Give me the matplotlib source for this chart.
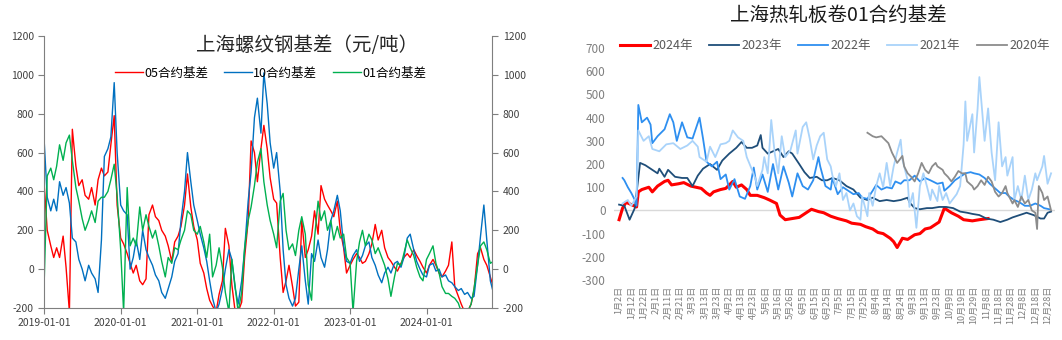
import pandas as pd
import matplotlib

matplotlib.use("Agg")
import matplotlib.pyplot as plt
import matplotlib.dates as mdates

plt.rcParams["font.family"] = ["Noto Sans CJK SC", "DejaVu Sans"]
plt.rcParams["axes.unicode_minus"] = False

# ---- rebar basis, half-monthly samples from 2019-01-01 ----
REBAR_DATES = pd.date_range("2019-01-01", periods=142, freq="SMS")

BASIS_05 = [
    430, 200, 120, 60, 110, 60, 170, 10, -220, 720, 530, 430,
    460, 380, 360, 420, 330, 460, 520, 480, 500, 640, 790, 330,
    160, 130, 80, 30, -20, 20, -60, -80, -50, 280, 330, 270,
    250, 200, 170, 120, 40, 140, 170, 220, 330, 490, 320, 220,
    150, 30, -20, -100, -160, -190, -220, -130, -60, 210, 120, -80,
    -220, -220, -170, 60, 250, 660, 600, 450, 620, 740, 620, 470,
    360, 340, 60, -120, -60, 20, -90, -190, -170, 250, 60, 100,
    170, 300, 180, 430, 360, 330, 300, 270, 350, 200, 110, -20,
    20, 50, 80, 60, 30, 40, 80, 130, 230, 150, 200, 110,
    60, 40, 10, -10, 30, 60, 80, 60, 100, 70, 40, 10,
    -20, 20, 50, 20, -20, -40, -10, 20, 140, -90, -140, -180,
    -220, -220, -180, -110, 80, 110, 50, 20, -40, -90,
]
BASIS_10 = [
    650, 370, 300, 360, 300, 450, 380, 420, 340, 160, 140, 50,
    0, -60, 20, -20, -50, -120, 150, 580, 620, 680, 960, 600,
    330, 300, 280, 0, 60, 150, 50, 200, 100, 60, 20, -30,
    -60, -120, -150, -100, -40, 40, 80, 250, 400, 600, 450, 330,
    250, 180, 110, 40, -60, -150, -220, -180, -100, 0, 100, 50,
    -100, -180, -60, 100, 350, 500, 780, 880, 700, 1010, 850, 650,
    520, 600, 400, 100, -80, -150, -190, -150, 0, 120, -60, -180,
    80, 40, 150, 60, 10, 100, 250, 300, 380, 300, 120, 40,
    30, 70, 100, 40, 70, 120, 140, 60, 20, -30, -70, -20,
    10, -20, 30, 40, 10, 60, 160, 180, 100, 40, 0, -30,
    -40, 20, 30, -10, 0, -40, -30, -60, -70, -90, -110, -100,
    -130, -120, -150, -140, 20, 170, 330, 150, -60, -120,
]
BASIS_01 = [
    -50, 480, 520, 460, 530, 640, 560, 650, 690, 560, 420, 350,
    260, 200, 250, 300, 240, 350, 370, 370, 400, 460, 540, 380,
    100, -220, 420, 120, 160, 120, 320, 200, 280, 220, 160, 200,
    120, 40, -40, 60, 30, 110, 100, 150, 200, 300, 280, 200,
    180, 220, 140, 60, 180, -40, 20, 110, 10, -120, -220, 50,
    -90, -220, -120, 110, 250, 320, 430, 550, 620, 450, 330, 250,
    180, 110, 350, 390, 200, 100, 130, 70, 200, 270, 180, -80,
    -160, 160, 350, 250, 300, 200, 250, 150, 220, 160, 180, 60,
    30, -220, 40, 140, 200, 120, 180, 150, 80, 110, 60, 20,
    -50, -140, -40, 30, 20, 80, 150, 110, 70, 10, -40, -60,
    50, 80, 120, 30, -20, -90, -125, -125, -140, -150, -175, -220,
    -220, -220, -180, -100, 20, 120, 140, 100, 30, 40,
]
REBAR_LABELS = ["05合约基差", "10合约基差", "01合约基差"]
REBAR_COLORS = ["#ff0000", "#0070c0", "#00b050"]

# ---- hot-rolled coil 01 basis, seasonal by trading day ----
HRC_TICKS = [
    "1月2日", "1月12日", "1月22日", "2月1日", "2月11日", "2月21日",
    "3月3日", "3月13日", "3月23日", "4月2日", "4月13日", "4月23日",
    "5月6日", "5月16日", "5月26日", "6月5日", "6月15日", "6月25日",
    "7月5日", "7月15日", "7月25日", "8月4日", "8月14日", "8月24日",
    "9月3日", "9月13日", "9月23日", "10月9日", "10月19日", "10月29日",
    "11月8日", "11月18日", "11月28日", "12月8日", "12月18日", "12月28日",
]

day_2024 = [0, 2, 4, 7, 10, 11, 13, 17, 19, 22, 26, 28, 30, 34, 37, 41, 44, 47,
            50, 52, 54, 58, 61, 65, 67, 70, 73, 75, 79, 83, 86, 90, 92, 95, 99,
            103, 107, 110, 114, 117, 121, 125, 130, 133, 138, 141, 145, 148,
            151, 155, 157, 159, 162, 165, 169, 172, 175, 178, 181, 183, 186,
            188, 190, 194, 197, 202, 206, 211]
hrc_2024 = [-40, 10, 35, 25, 15, 80, 90, 100, 80, 105, 125, 130, 110, 115, 120,
            105, 100, 95, 75, 65, 80, 90, 95, 125, 100, 110, 90, 65, 65, 55, 45,
            30, -20, -40, -35, -30, -10, 5, -5, -10, -25, -35, -45, -55, -60,
            -70, -80, -95, -100, -120, -135, -160, -120, -125, -105, -100, -80,
            -75, -60, -50, 10, 0, -10, -25, -40, -45, -40, -35]

day_2023 = [0, 3, 6, 9, 12, 15, 19, 22, 23, 26, 28, 32, 36, 39, 42, 45, 48, 52,
            56, 59, 63, 67, 70, 73, 76, 79, 81, 82, 85, 88, 91, 94, 97, 99, 103,
            106, 109, 113, 116, 119, 122, 126, 130, 134, 138, 142, 145, 149,
            153, 157, 161, 165, 166, 169, 172, 176, 179, 183, 187, 191, 195,
            199, 202, 206, 210, 214, 218, 222, 225, 229, 233, 237, 241, 243,
            245, 247]
hrc_2023 = [25, 20, -40, 10, 205, 195, 175, 160, 180, 145, 175, 145, 140, 140,
            105, 150, 180, 200, 175, 215, 245, 270, 295, 270, 270, 280, 325, 270,
            245, 255, 265, 230, 255, 245, 200, 165, 140, 145, 130, 130, 140, 130,
            105, 90, 55, 45, 55, 40, 45, 40, 45, 55, 35, 10, 5, 10, 10, 15, 15,
            10, -5, -10, -15, -20, -35, -40, -50, -40, -30, -20, -10, -20, -35,
            -35, -10, -5]

day_2022 = [2, 3, 5, 7, 9, 10, 11, 13, 16, 18, 19, 22, 26, 29, 31, 33, 36, 39,
            42, 46, 48, 50, 53, 56, 58, 61, 63, 66, 69, 72, 75, 77, 79, 82, 85,
            88, 91, 94, 97, 99, 102, 105, 108, 111, 114, 115, 118, 121, 122,
            125, 128, 131, 134, 137, 139, 142, 145, 147, 150, 153, 156, 158,
            161, 163, 166, 169, 172, 175, 178, 182, 185, 186, 189, 192, 195,
            198, 201, 203, 206, 209, 212, 215, 218, 221, 223, 226, 229, 232,
            235, 238, 241, 243, 246]
hrc_2022 = [140, 130, 100, 75, 45, 20, 455, 380, 400, 370, 290, 320, 350, 415,
            380, 300, 380, 315, 310, 400, 310, 210, 190, 210, 135, 155, 90, 135,
            60, 50, 105, 185, 90, 155, 80, 200, 90, 190, 120, 60, 160, 105, 90,
            130, 230, 190, 105, 90, 140, 70, 100, 85, 70, 75, 55, 50, 85, 110,
            90, 100, 95, 125, 115, 130, 130, 150, 125, 140, 130, 115, 120, 85,
            105, 130, 145, 160, 165, 160, 155, 140, 115, 95, 75, 75, 60, 45, 35,
            20, 20, 30, 20, 10, 5]

day_2021 = [2, 5, 7, 10, 11, 14, 17, 19, 23, 27, 31, 35, 39, 42, 45, 46, 50, 52,
            55, 58, 61, 63, 65, 68, 71, 73, 76, 78, 79, 82, 83, 85, 87, 89, 91,
            93, 95, 98, 101, 102, 105, 107, 109, 111, 113, 115, 117, 119, 121,
            122, 124, 126, 128, 130, 132, 134, 136, 138, 139, 142, 143, 145,
            147, 149, 151, 153, 155, 157, 159, 161, 162, 165, 166, 168, 170,
            172, 174, 176, 178, 179, 182, 183, 185, 187, 189, 191, 193, 195,
            197, 198, 199, 202, 203, 205, 206, 209, 211, 213, 215, 217, 219,
            221, 222, 225, 226, 228, 230, 232, 234, 236, 238, 239, 242, 243,
            245, 247]
hrc_2021 = [30, 45, 20, 60, 345, 300, 320, 265, 255, 285, 290, 265, 280, 300,
            275, 230, 210, 275, 230, 285, 290, 300, 345, 315, 300, 230, 175, 135,
            105, 175, 230, 160, 390, 245, 160, 320, 230, 260, 345, 245, 360, 380,
            310, 220, 280, 320, 335, 220, 190, 150, 105, 160, 45, 75, 0, 30, -25,
            -40, 60, -25, 75, 20, 105, 160, 100, 205, 105, 190, 250, 305, 220,
            130, 15, 75, -75, 105, 160, 105, 45, 90, 40, 105, 45, 75, 30, 50, 70,
            105, 285, 470, 300, 415, 250, 440, 575, 300, 440, 250, 130, 380, 190,
            230, 150, 230, 45, 105, 45, 150, 45, 90, 160, 130, 190, 235, 115, 160]

day_2020 = [142, 145, 147, 150, 152, 154, 156, 158, 159, 162, 163, 165, 167, 169,
            171, 173, 175, 177, 179, 181, 182, 185, 186, 188, 190, 192, 194, 196,
            198, 199, 202, 203, 205, 207, 209, 211, 213, 215, 217, 219, 221, 222,
            225, 226, 228, 230, 232, 234, 236, 238, 239, 240, 242, 243, 245, 247]
hrc_2020 = [335, 320, 315, 320, 305, 290, 250, 220, 205, 235, 190, 160, 145, 125,
            160, 205, 175, 160, 190, 205, 190, 175, 160, 145, 125, 145, 170, 160,
            160, 125, 105, 90, 105, 130, 110, 145, 125, 80, 60, 75, 105, 75, 30,
            45, 15, 60, 30, 45, 0, -10, -80, 105, 75, 45, 60, 0]

HRC_SERIES = [
    ("2024年", day_2024, hrc_2024, "#ff0000", 2.2),
    ("2023年", day_2023, hrc_2023, "#1f4e79", 1.3),
    ("2022年", day_2022, hrc_2022, "#2e8ff0", 1.3),
    ("2021年", day_2021, hrc_2021, "#a9d3fa", 1.3),
    ("2020年", day_2020, hrc_2020, "#8c8c8c", 1.3),
]

fig = plt.figure(figsize=(10.62, 3.4), dpi=100)

# left chart: rebar basis
ax1 = fig.add_axes([0.0417, 0.0941, 0.4218, 0.8])
for vals, label, color in zip([BASIS_05, BASIS_10, BASIS_01], REBAR_LABELS, REBAR_COLORS):
    ax1.plot(REBAR_DATES, vals, color=color, lw=1.0, label=label)

ax1.set_ylim(-200, 1200)
ax1.set_yticks(range(-200, 1201, 200))
ax1.set_xlim(pd.Timestamp("2019-01-01"), pd.Timestamp("2024-11-10"))
ax1.xaxis.set_major_locator(mdates.YearLocator())
ax1.xaxis.set_major_formatter(mdates.DateFormatter("%Y-%m-%d"))
ax1.spines["top"].set_visible(False)
for side in ["left", "right", "bottom"]:
    ax1.spines[side].set_color("#7f7f7f")
ax1.tick_params(axis="both", labelsize=7.5, colors="#7f7f7f", labelcolor="#404040", length=4)
ax1.tick_params(axis="y", right=True, labelright=True)

fig.text(0.289, 0.865, "上海螺纹钢基差（元/吨）", fontsize=14, color="#262626",
         ha="center", va="center")
ax1.legend(loc="center", bbox_to_anchor=(0.255, 0.785), bbox_transform=fig.transFigure,
           ncol=3, frameon=False, fontsize=9, handlelength=2.2, columnspacing=1.3,
           handletextpad=0.1)

# right chart: hot-rolled coil seasonal basis
ax2 = fig.add_axes([0.578, 0.1765, 0.415, 0.682])
ax2.axhline(0, color="#d9d9d9", lw=1.0, zorder=0)
for label, days, vals, color, lw in HRC_SERIES:
    ax2.plot(days, vals, color=color, lw=lw, label=label)

ax2.set_ylim(-300, 700)
ax2.set_yticks(range(-300, 701, 100))
ax2.set_xlim(-3, 249)
ax2.set_xticks([7 * i for i in range(len(HRC_TICKS))])
ax2.set_xticklabels(HRC_TICKS, rotation=90, fontsize=6.5, color="#7f7f7f")
for s in ax2.spines.values():
    s.set_visible(False)
ax2.tick_params(axis="both", length=0, colors="#7f7f7f")
ax2.tick_params(axis="y", labelsize=8.5, pad=6)
ax2.tick_params(axis="x", pad=4)

fig.text(0.789, 0.955, "上海热轧板卷01合约基差", fontsize=14, color="#1a1a1a",
         ha="center", va="center")
leg = ax2.legend(loc="center", bbox_to_anchor=(0.786, 0.865), bbox_transform=fig.transFigure,
                 ncol=5, frameon=False, fontsize=9, handlelength=2.4, columnspacing=1.3,
                 handletextpad=0.2)
for t in leg.get_texts():
    t.set_color("#595959")

fig.savefig("out.png", dpi=100)
